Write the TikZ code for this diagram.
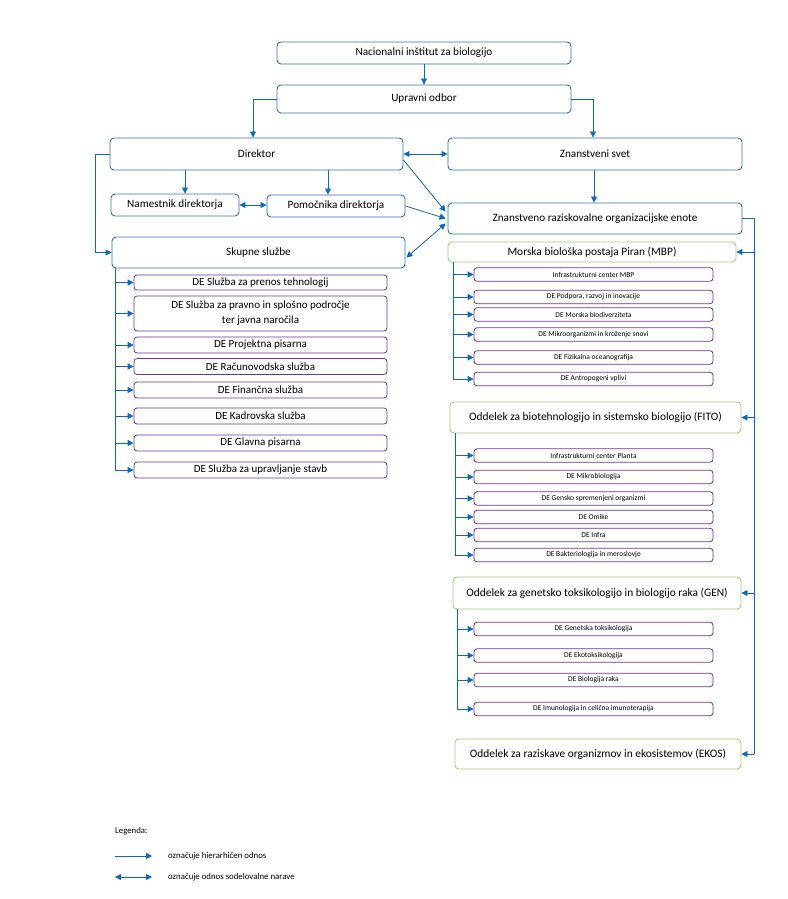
\documentclass[tikz,border=0pt]{standalone}
\usepackage{fontspec}
\setmainfont{Carlito}
\usetikzlibrary{arrows.meta,calc}
\definecolor{lineblue}{RGB}{16,104,184}
\definecolor{boxblue}{RGB}{52,110,180}
\definecolor{purp}{RGB}{112,48,160}
\definecolor{grn}{RGB}{160,208,120}
\begin{document}
\begin{tikzpicture}[x=1pt,y=-1pt,
  topbox/.style={draw=boxblue,rounded corners=4pt,line width=0.9pt,inner sep=0pt,align=center,font=\fontsize{11.2}{13}\selectfont},
  lbox/.style={draw=purp,rounded corners=3pt,line width=0.8pt,inner sep=0pt,align=center,minimum width=253pt,font=\fontsize{11}{15}\selectfont},
  rbox/.style={draw=purp,rounded corners=3pt,line width=0.8pt,inner sep=0pt,align=center,minimum width=239pt,minimum height=13.5pt,font=\fontsize{7.5}{9}\selectfont},
  gbox/.style={draw=grn,rounded corners=4pt,line width=0.9pt,inner sep=0pt,align=center,font=\fontsize{11.4}{13}\selectfont},
  conn/.style={draw=lineblue,line width=0.8pt,-{Triangle[length=6pt,width=6pt]}},
  dconn/.style={draw=lineblue,line width=0.8pt,{Triangle[length=6pt,width=6pt]}-{Triangle[length=6pt,width=6pt]}},
  plain/.style={draw=lineblue,line width=0.8pt},
  legtext/.style={anchor=west,inner sep=0pt,font=\fontsize{8.8}{10}\selectfont}]
\useasboundingbox (0,0) rectangle (787,899);

% top
\node[topbox,minimum width=294pt,minimum height=22pt] (n1) at (424,53) {Nacionalni inštitut za biologijo};
\node[topbox,minimum width=294pt,minimum height=28pt] (n2) at (424,99) {Upravni odbor};
\node[topbox,minimum width=293pt,minimum height=32pt] (dir) at (256.5,154) {Direktor};
\node[topbox,minimum width=294pt,minimum height=32pt] (zs) at (595,154) {Znanstveni svet};
\node[topbox,minimum width=128pt,minimum height=22pt] (nam) at (175,205) {Namestnik direktorja};
\node[topbox,minimum width=138pt,minimum height=22pt] (pom) at (336,206) {Pomočnika direktorja};
\node[topbox,minimum width=294pt,minimum height=31pt] (zroe) at (595,218.5) {Znanstveno raziskovalne organizacijske enote};
\node[topbox,minimum width=293pt,minimum height=31pt] (sk) at (258.5,252.5) {Skupne službe};

\draw[conn] (n1) -- (n2);
\draw[conn] (n2.west) -| ([xshift=-3.5pt]dir.north);
\draw[conn] (n2.east) -| ([xshift=-2pt]zs.north);
\draw[conn] ([xshift=10pt]nam.north |- dir.south) -- ([xshift=10pt]nam.north);
\draw[conn] ([xshift=-8pt]pom.north |- dir.south) -- ([xshift=-8pt]pom.north);
\draw[dconn] (nam.east) -- (nam.east -| pom.west);
\draw[dconn] (dir.east) -- (zs.west);
\draw[conn] ([xshift=-1pt]zs.south) -- ([xshift=-1pt]zroe.north);
\draw[conn] ($(dir.east)+(0,6)$) -- ($(zroe.west)+(-2,-7)$);
\draw[conn] (pom.east) -- ($(zroe.west)+(-2,0)$);
\draw[dconn] ($(sk.east)+(1,5)$) -- ($(zroe.west)+(-2,5)$);
\draw[conn] (dir.west) -- ++(-14,0) |- (sk.west);

% left children
\node[lbox,minimum height=15pt] (l1) at (260.5,282.5) {DE Služba za prenos tehnologij};
\node[lbox,minimum height=35pt] (l2) at (260.5,313.5) {DE Služba za pravno in splošno področje\\ter javna naročila};
\node[lbox,minimum height=16pt] (l3) at (260.5,345) {DE Projektna pisarna};
\node[lbox,minimum height=16pt] (l4) at (260.5,366.5) {DE Računovodska služba};
\node[lbox,minimum height=16pt] (l5) at (260.5,390) {DE Finančna služba};
\node[lbox,minimum height=16pt] (l6) at (260.5,416) {DE Kadrovska služba};
\node[lbox,minimum height=16pt] (l7) at (260.5,443) {DE Glavna pisarna};
\node[lbox,minimum height=16pt] (l8) at (260.5,470) {DE Služba za upravljanje stavb};
\coordinate (lt) at (115,268);
\draw[plain] (lt) -- (lt |- l8.west);
\foreach \c in {l1,l2,l3,l4,l5,l6,l7,l8}{\draw[conn] (lt |- \c.west) -- (\c.west);}

% right trunk
\node[gbox,minimum width=288pt,minimum height=20pt] (mbp) at (592,252) {Morska biološka postaja Piran (MBP)};
\node[gbox,minimum width=291pt,minimum height=31pt] (fito) at (595.5,417.5) {Oddelek za biotehnologijo in sistemsko biologijo (FITO)};
\node[gbox,minimum width=288pt,minimum height=32pt] (gen) at (597,593) {Oddelek za genetsko toksikologijo in biologijo raka (GEN)};
\node[gbox,minimum width=286pt,minimum height=30pt] (ekos) at (598,754) {Oddelek za raziskave organizmov in ekosistemov (EKOS)};
\coordinate (rt) at (754,218.5);
\draw[plain] (zroe.east) -- (rt) -- (rt |- ekos.east);
\foreach \c in {mbp,fito,gen,ekos}{\draw[conn] (rt |- \c.east) -- (\c.east);}

% MBP children
\node[rbox] (m1) at (593.5,274.5) {Infrastrukturni center MBP};
\node[rbox] (m2) at (593.5,297) {DE Podpora, razvoj in inovacije};
\node[rbox] (m3) at (593.5,314.5) {DE Morska biodiverziteta};
\node[rbox] (m4) at (593.5,334.5) {DE Mikroorganizmi in kroženje snovi};
\node[rbox] (m5) at (593.5,357.5) {DE Fizikalna oceanografija};
\node[rbox] (m6) at (593.5,379) {DE Antropogeni vplivi};
\coordinate (mt) at (453,262);
\draw[plain] (mt) -- (mt |- m6.west);
\foreach \c in {m1,m2,m3,m4,m5,m6}{\draw[conn] (mt |- \c.west) -- (\c.west);}

% FITO children
\node[rbox] (f1) at (593.5,455.5) {Infrastrukturni center Planta};
\node[rbox] (f2) at (593.5,477) {DE Mikrobiologija};
\node[rbox] (f3) at (593.5,498.5) {DE Gensko spremenjeni organizmi};
\node[rbox] (f4) at (593.5,517) {DE Omike};
\node[rbox] (f5) at (593.5,535) {DE Infra};
\node[rbox] (f6) at (593.5,555) {DE Bakteriologija in meroslovje};
\coordinate (ft) at (455,433);
\draw[plain] (ft) -- (ft |- f6.west);
\foreach \c in {f1,f2,f3,f4,f5,f6}{\draw[conn] (ft |- \c.west) -- (\c.west);}

% GEN children
\node[rbox] (g1) at (593.5,629) {DE Genetska toksikologija};
\node[rbox] (g2) at (593.5,655.5) {DE Ekotoksikologija};
\node[rbox] (g3) at (593.5,680) {DE Biologija raka};
\node[rbox] (g4) at (593.5,709) {DE Imunologija in celična imunoterapija};
\coordinate (gt) at (457,609);
\draw[plain] (gt) -- (gt |- g4.west);
\foreach \c in {g1,g2,g3,g4}{\draw[conn] (gt |- \c.west) -- (\c.west);}

% legend
\node[legtext] (leg) at (115,831) {Legenda:};
\coordinate (a1) at (115,856);
\coordinate (a2) at (152,856);
\coordinate (b1) at (115,877);
\coordinate (b2) at (152,877);
\draw[conn] (a1) -- (a2);
\draw[dconn] (b1) -- (b2);
\node[legtext] (t1) at (168,856) {označuje hierarhičen odnos};
\node[legtext] (t2) at (168,877) {označuje odnos sodelovalne narave};
\end{tikzpicture}
\end{document}
